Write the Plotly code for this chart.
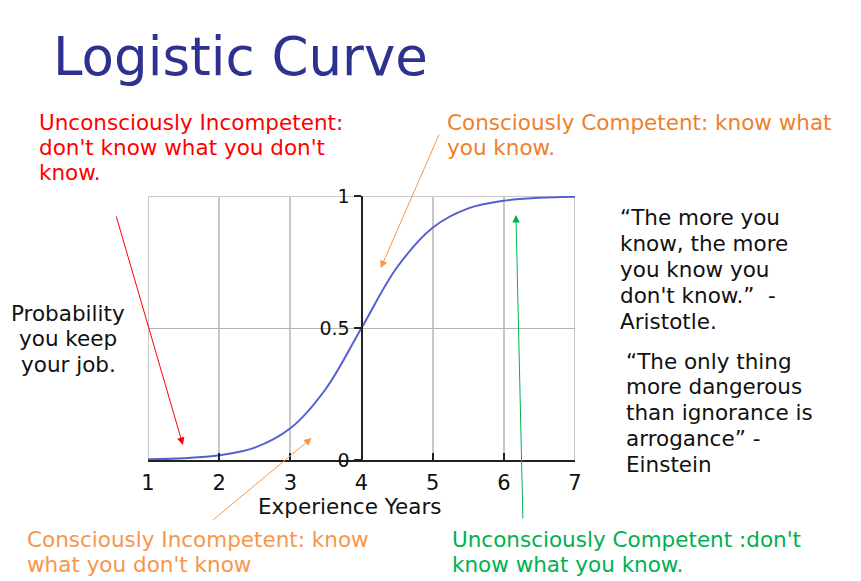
import plotly.graph_objects as go

# ---- data ----
experience_years = [1, 1.5, 2, 2.5, 3, 3.5, 4, 4.5, 5, 5.5, 6, 6.5, 7]
probability = [0.003, 0.007, 0.018, 0.047, 0.12, 0.27, 0.5, 0.73, 0.88, 0.953, 0.982, 0.993, 0.997]
x_ticks = [1, 2, 3, 4, 5, 6, 7]
y_ticks = [0, 0.5, 1]
y_tick_labels = ["0", "0.5", "1"]

OFF = 8                     # page body margin
W, H = 861 - OFF, 581 - OFF
L, R, T, B = 148, 575, 196, 460  # plot area in page pixels

def px(xp):
    return (xp - L) / (R - L)

def py(yp):
    return (B - yp) / (B - T)

FONT = "DejaVu Sans"
FS = 21.5

fig = go.Figure()
fig.add_trace(go.Scatter(
    x=experience_years, y=probability, mode="lines",
    line=dict(color="#5560d0", width=2, shape="spline", smoothing=1.0),
    hoverinfo="skip", showlegend=False,
))

annotations = []

def lines(rows, x, y0, step, color, size=FS, anchor="left"):
    for i, t in enumerate(rows):
        annotations.append(dict(
            text=t, xref="paper", yref="paper", x=px(x), y=py(y0 + i * step),
            xanchor=anchor, yanchor="middle", showarrow=False,
            font=dict(family=FONT, size=size, color=color),
        ))

def arrow(hx, hy, ax, ay, color):
    annotations.append(dict(
        text="", xref="x", yref="y", x=hx, y=hy, ax=ax, ay=ay,
        showarrow=True, arrowhead=2, arrowsize=1.5, arrowwidth=1,
        arrowcolor=color, standoff=0,
    ))

# title
lines(["Logistic Curve"], 51, 56, 0, "#2d3190", size=53)
# labels
lines(["Unconsciously Incompetent:", "don't know what you don't", "know."], 37, 122, 25, "#ff0000")
lines(["Consciously Competent: know what", "you know."], 445, 122, 25, "#ee7f2d")
lines(["Probability", "you keep", "your job."], 68, 313, 25.5, "#111111", anchor="center")
lines(["\u201cThe more you", "know, the more", "you know you", "don't know.\u201d  -", "Aristotle."],
      618, 217, 26, "#111111")
lines(["\u201cThe only thing", "more dangerous", "than ignorance is", "arrogance\u201d -", "Einstein"],
      624, 361, 25.75, "#111111")
lines(["Experience Years"], 349, 506, 0, "#111111", anchor="center")
lines(["Consciously Incompetent: know", "what you don't know"], 25, 539, 25, "#f7964a")
lines(["Unconsciously Competent :don't", "know what you know."], 450, 539, 25, "#00b050")

# arrows (head in data coords, tail offset in pixels)
arrow(1.49, 0.057, -67, -230, "#ff0000")
arrow(4.27, 0.727, 59, -135, "#f7964a")
arrow(3.30, 0.083, -100, 83, "#f7964a")
arrow(6.17, 0.928, 7, 305, "#00b050")

box = dict(type="line", xref="x", yref="y", layer="below",
           line=dict(color="#c8c8c8", width=2))
shapes = [
    dict(box, x0=x_ticks[0], x1=x_ticks[0], y0=y_ticks[0], y1=y_ticks[-1]),
    dict(box, x0=x_ticks[-1], x1=x_ticks[-1], y0=y_ticks[0], y1=y_ticks[-1]),
    dict(box, x0=x_ticks[0], x1=x_ticks[-1], y0=y_ticks[-1], y1=y_ticks[-1]),
]

fig.update_layout(
    width=W, height=H,
    margin=dict(l=L - OFF, r=W - (R - OFF), t=T - OFF, b=H - (B - OFF), pad=0),
    paper_bgcolor="white", plot_bgcolor="white",
    font=dict(family=FONT, color="#111111"),
    annotations=annotations, shapes=shapes,
    xaxis=dict(
        range=[1, 7], tickvals=x_ticks, ticks="inside", ticklen=7, tickwidth=2,
        tickcolor="#222222", showline=True, linecolor="#222222", linewidth=2,
        showgrid=True, gridcolor="#c8c8c8", gridwidth=2, zeroline=False,
        ticklabelstandoff=3,
        tickfont=dict(size=21, family=FONT, color="#111111"), fixedrange=True,
    ),
    yaxis=dict(
        range=[0, 1], tickvals=y_ticks, ticktext=y_tick_labels, ticks="outside",
        ticklen=7, tickwidth=2, tickcolor="#222222", showline=True,
        linecolor="#222222", linewidth=2, anchor="free", position=0.5,
        showgrid=True, gridcolor="#b4b4b4", gridwidth=1.3, zeroline=False,
        tickfont=dict(size=19, family=FONT, color="#111111"), fixedrange=True,
    ),
)

fig.write_html("out.html", config={"displayModeBar": False})
